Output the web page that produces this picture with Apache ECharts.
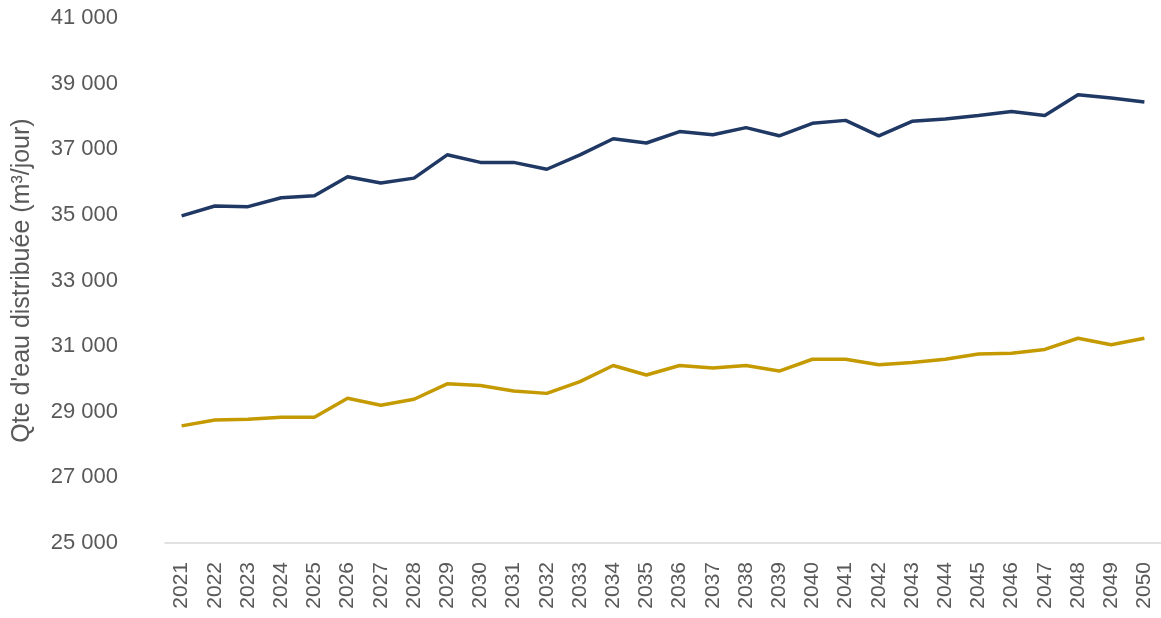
<!DOCTYPE html>
<html>
<head>
<meta charset="utf-8">
<script src="https://cdn.jsdelivr.net/npm/echarts@6/dist/echarts.min.js"></script>
<style>
  html, body { margin: 0; padding: 0; background: #fff; }
  #chart { width: 1161px; height: 618px; }
</style>
</head>
<body>
<div id="chart"></div>
<script>
// années
const years = ['2021', '2022', '2023', '2024', '2025', '2026', '2027', '2028', '2029', '2030',
  '2031', '2032', '2033', '2034', '2035', '2036', '2037', '2038', '2039', '2040',
  '2041', '2042', '2043', '2044', '2045', '2046', '2047', '2048', '2049', '2050']

// courbe haute (bleu)
const serieHaute = [34970, 35270, 35250, 35520, 35580, 36160, 35970, 36120, 36830, 36600,
  36600, 36390, 36830, 37320, 37190, 37540, 37440, 37660, 37410, 37790,
  37880, 37410, 37850, 37920, 38030, 38150, 38030, 38660, 38560, 38440]

// courbe basse (or)
const serieBasse = [28570, 28750, 28770, 28830, 28830, 29410, 29200, 29380, 29850, 29800,
  29630, 29560, 29920, 30410, 30120, 30410, 30330, 30410, 30240, 30600,
  30600, 30430, 30500, 30600, 30760, 30780, 30900, 31240, 31040, 31240]

const yMin = 25000
const yMax = 41000
const yStep = 2000

const myChart = echarts.init(document.getElementById('chart'))
myChart.setOption({
  animation: false,
  textStyle: { fontFamily: 'Liberation Sans, Arial, sans-serif' },
  grid: { left: 165, right: 0, top: 18, bottom: 75, outerBoundsMode: 'none', containLabel: false },
  xAxis: {
    type: 'category',
    data: years,
    boundaryGap: true,
    axisLine: { lineStyle: { color: '#d9d9d9', width: 1.5 } },
    axisTick: { show: false },
    axisLabel: { rotate: 90, color: '#595959', fontSize: 21, margin: 19, interval: 0 }
  },
  yAxis: {
    type: 'value',
    min: yMin,
    max: yMax,
    interval: yStep,
    name: 'Qte d\'eau distribuée (m³/jour)',
    nameLocation: 'middle',
    nameGap: 130,
    nameRotate: 90,
    nameTextStyle: { color: '#595959', fontSize: 25 },
    axisLine: { show: false },
    axisTick: { show: false },
    splitLine: { show: false },
    axisLabel: {
      color: '#595959',
      fontSize: 22,
      margin: 47,
      formatter: v => String(v).replace(/\B(?=(\d{3})+(?!\d))/g, ' ')
    }
  },
  series: [
    {
      type: 'line',
      data: serieHaute,
      symbol: 'none',
      lineStyle: { color: '#1f3864', width: 3.5 }
    },
    {
      type: 'line',
      data: serieBasse,
      symbol: 'none',
      lineStyle: { color: '#c49a00', width: 3.5 }
    }
  ]
})
</script>
</body>
</html>
